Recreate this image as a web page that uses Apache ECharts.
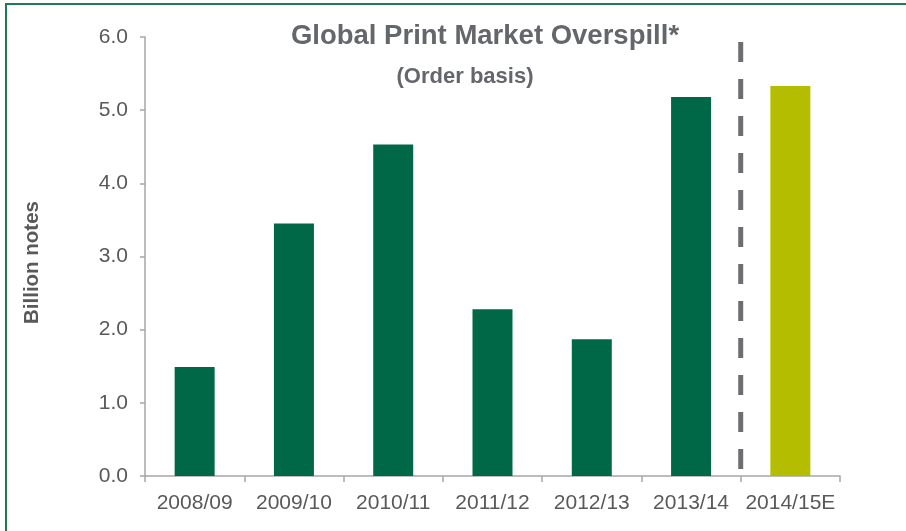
<!DOCTYPE html>
<html><head><meta charset="utf-8">
<script src="https://cdn.jsdelivr.net/npm/echarts@6/dist/echarts.min.js"></script>
<style>html,body{margin:0;padding:0;background:#fff}#c{width:906px;height:531px}</style>
</head><body><div id="c"></div>
<script>
const categories = ['2008/09','2009/10','2010/11','2011/12','2012/13','2013/14','2014/15E'];
const values = [1.49, 3.45, 4.53, 2.28, 1.87, 5.18, 5.33];
const yTicks = [0, 1, 2, 3, 4, 5, 6];
const dividerPos = 5.5;
const dividerRange = [5.93, 0.08];

const chart = echarts.init(document.getElementById('c'), null, {renderer:'canvas'});
const font = 'Liberation Sans, Arial, sans-serif';
chart.setOption({
  animation: false,
  backgroundColor: '#fff',
  textStyle: {fontFamily: font},
  title: [
    {text: 'Global Print Market Overspill*', left: 480, top: 17, textAlign: 'center',
     textStyle: {fontFamily: font, fontSize: 27.5, fontWeight: 'bold', color: '#63666a'}},
    {text: '(Order basis)', left: 460, top: 61, textAlign: 'center',
     textStyle: {fontFamily: font, fontSize: 22, fontWeight: 'bold', color: '#63666a'}}
  ],
  graphic: [{type: 'rect', shape: {x: 6, y: 4, width: 1200, height: 1200},
    style: {fill: 'none', stroke: '#1d7a52', lineWidth: 2}, silent: true}],
  grid: {left: 145, right: 66, top: 37, bottom: 55},
  xAxis: [{
    type: 'category', data: categories,
    axisLine: {lineStyle: {color: '#a6a6a6', width: 1.5}},
    axisTick: {show: true, length: 6, lineStyle: {color: '#a6a6a6', width: 1.5}},
    axisLabel: {color: '#595959', fontSize: 21, fontFamily: font, margin: 17, interval: 0}
  }, {
    type: 'value', min: -0.5, max: 6.5, show: false
  }],
  yAxis: {
    type: 'value', min: 0, max: 6, interval: 1,
    name: 'Billion notes', nameLocation: 'middle', nameGap: 102,
    nameTextStyle: {fontFamily: font, fontSize: 20.5, fontWeight: 'bold', color: '#595959', padding: [0, 12, 0, 0]},
    axisLine: {show: true, onZero: false, lineStyle: {color: '#a6a6a6', width: 1.5}},
    axisTick: {show: true, length: 5, lineStyle: {color: '#a6a6a6', width: 1.5}},
    splitLine: {show: false},
    axisLabel: {color: '#595959', fontSize: 21, fontFamily: font, margin: 17,
      formatter: v => yTicks.includes(v) ? v.toFixed(1) : ''}
  },
  series: [{
    type: 'bar', barWidth: 40,
    data: values.map((v, i) => ({value: v, itemStyle: {color: i === values.length - 1 ? '#b5bd00' : '#006847'}}))
  }, {
    type: 'line', xAxisIndex: 1, symbol: 'none',
    data: [[dividerPos, dividerRange[0]], [dividerPos, dividerRange[1]]],
    lineStyle: {color: '#6d6e71', width: 5, type: [20, 17], cap: 'butt'}
  }]
});
</script></body></html>
